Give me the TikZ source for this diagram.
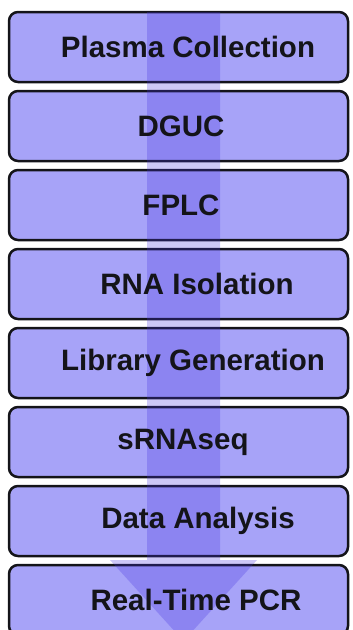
\documentclass[tikz,border=0pt]{standalone}
\usepackage{fontspec}
\setmainfont{Liberation Sans}
\usepackage{tikz}

\definecolor{boxfill}{RGB}{167,163,248}
\definecolor{flowblue}{RGB}{70,50,225}
\definecolor{inkline}{RGB}{20,20,25}

\tikzset{
  stepbox/.style={draw=inkline, fill=boxfill, line width=2.5pt, rounded corners=9pt,
    minimum width=339pt, minimum height=70pt, inner sep=0pt},
  steplabel/.style={text=inkline, inner sep=0pt, font=\fontsize{29.5}{31}\selectfont\bfseries},
  flow/.style={fill=flowblue, fill opacity=0.27, draw=none}
}

\begin{document}
\begin{tikzpicture}[x=1pt, y=-1pt]
	\clip (0,0) rectangle (353,630);
	% the eight steps
	\foreach \i in {1,...,8} {\node[stepbox] (b\i) at (178.5,{47+79*(\i-1)}) {};}
	% big arrow through all steps
	\fill[flow] (147,12) -- (220,12) -- (220,560) -- (257,560) -- (183.5,641) -- (110,560) -- (147,560) -- cycle;
	\foreach \i/\dx/\txt in {1/9.5/Plasma Collection, 2/2.5/DGUC, 3/2.5/FPLC, 4/18.5/RNA Isolation,
		5/14.5/Library Generation, 6/4.5/sRNAseq, 7/19.5/Data Analysis, 8/17.5/Real-Time PCR}
		{\node[steplabel] (t\i) at ([xshift=\dx pt]b\i.center) {\txt};}
\end{tikzpicture}
\end{document}
